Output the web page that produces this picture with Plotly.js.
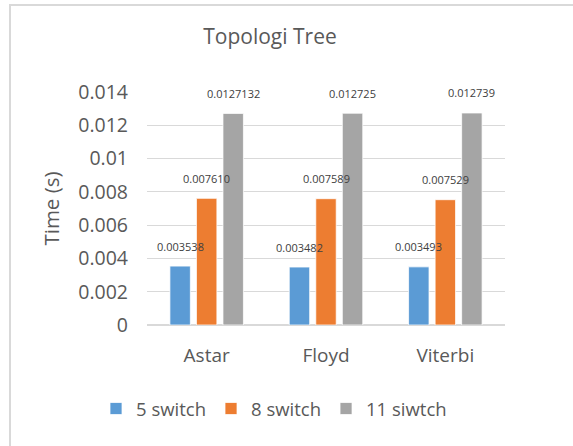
<!DOCTYPE html>
<html>
<head>
<meta charset="utf-8">
<script src="https://cdn.plot.ly/plotly-3.0.1.min.js"></script>
<style>
html,body{margin:0;padding:0;background:#fff;}
#wrap{position:relative;width:573px;height:446px;}
#chart{width:573px;height:446px;}
#frame{position:absolute;left:9px;top:4px;right:-5px;bottom:-5px;border-top:2px solid #D9D9D9;border-left:2px solid #D9D9D9;pointer-events:none;}
</style>
</head>
<body>
<div id="wrap"><div id="chart"></div><div id="frame"></div></div>
<script>
var categories = ["Astar", "Floyd", "Viterbi"];
var seriesNames = ["5 switch", "8 switch", "11 siwtch"];
var s5 = [0.003538, 0.003482, 0.003493];
var s8 = [0.007610, 0.007589, 0.007529];
var s11 = [0.0127132, 0.012725, 0.012739];
var s5Labels = ["0.003538", "0.003482", "0.003493"];
var s8Labels = ["0.007610", "0.007589", "0.007529"];
var s11Labels = ["0.0127132", "0.012725", "0.012739"];
var yTicks = [0, 0.002, 0.004, 0.006, 0.008, 0.01, 0.012, 0.014];
var yTickText = ["0", "0.002", "0.004", "0.006", "0.008", "0.01", "0.012", "0.014"];

var colors = ["#5B9BD5", "#ED7D31", "#A5A5A5"];
var allValues = [s5, s8, s11];
var allLabels = [s5Labels, s8Labels, s11Labels];
var FONT = "Open Sans, Noto Sans, sans-serif";

var traces = allValues.map(function(vals, i){
  return {
    type: "bar",
    name: seriesNames[i],
    x: categories,
    y: vals,
    marker: {color: colors[i], line: {color: "#FFFFFF", width: 0.75}},
    hoverinfo: "none"
  };
});

var annotations = [];
var offsets = [-26.5, 0, 26.5];
allValues.forEach(function(vals, i){
  vals.forEach(function(v, j){
    annotations.push({
      x: categories[j], y: v, xref: "x", yref: "y",
      text: allLabels[i][j], showarrow: false,
      xshift: offsets[i], yshift: 20,
      font: {family: FONT, size: 11, color: "#404040"}
    });
  });
});

var layout = {
  width: 573, height: 446,
  margin: {l: 147, r: 68, t: 92, b: 121},
  paper_bgcolor: "#FFFFFF", plot_bgcolor: "#FFFFFF",
  barmode: "group", bargap: 0.333, bargroupgap: 0.23,
  title: {text: "Topologi Tree", xref: "container", x: 270/573, xanchor: "center",
          yref: "container", y: 1 - 37/446, yanchor: "middle",
          font: {family: FONT, size: 21, color: "#595959"}},
  xaxis: {tickfont: {family: FONT, size: 19, color: "#595959"}, showgrid: false,
          showline: false, ticks: "outside", ticklen: 13, tickcolor: "rgba(0,0,0,0)",
          zeroline: false, fixedrange: true},
  yaxis: {range: [0, 0.014], tickvals: yTicks, ticktext: yTickText,
          tickfont: {family: FONT, size: 19.5, color: "#595959"},
          gridcolor: "#D9D9D9", gridwidth: 1, zeroline: true, zerolinecolor: "#D9D9D9", zerolinewidth: 1.5,
          ticklabelstandoff: 18, showline: false,
          title: {text: "Time (s)", font: {family: FONT, size: 20.5, color: "#595959"}, standoff: 13},
          fixedrange: true},
  legend: {orientation: "h", x: 274/573, xref: "container", xanchor: "center",
           y: 1 - 409/446, yref: "container", yanchor: "middle",
           font: {family: FONT, size: 18.5, color: "#595959"}, itemclick: false, itemdoubleclick: false},
  showlegend: true,
  annotations: annotations
};

Plotly.newPlot("chart", traces, layout, {displayModeBar: false, staticPlot: true});
</script>
</body>
</html>
